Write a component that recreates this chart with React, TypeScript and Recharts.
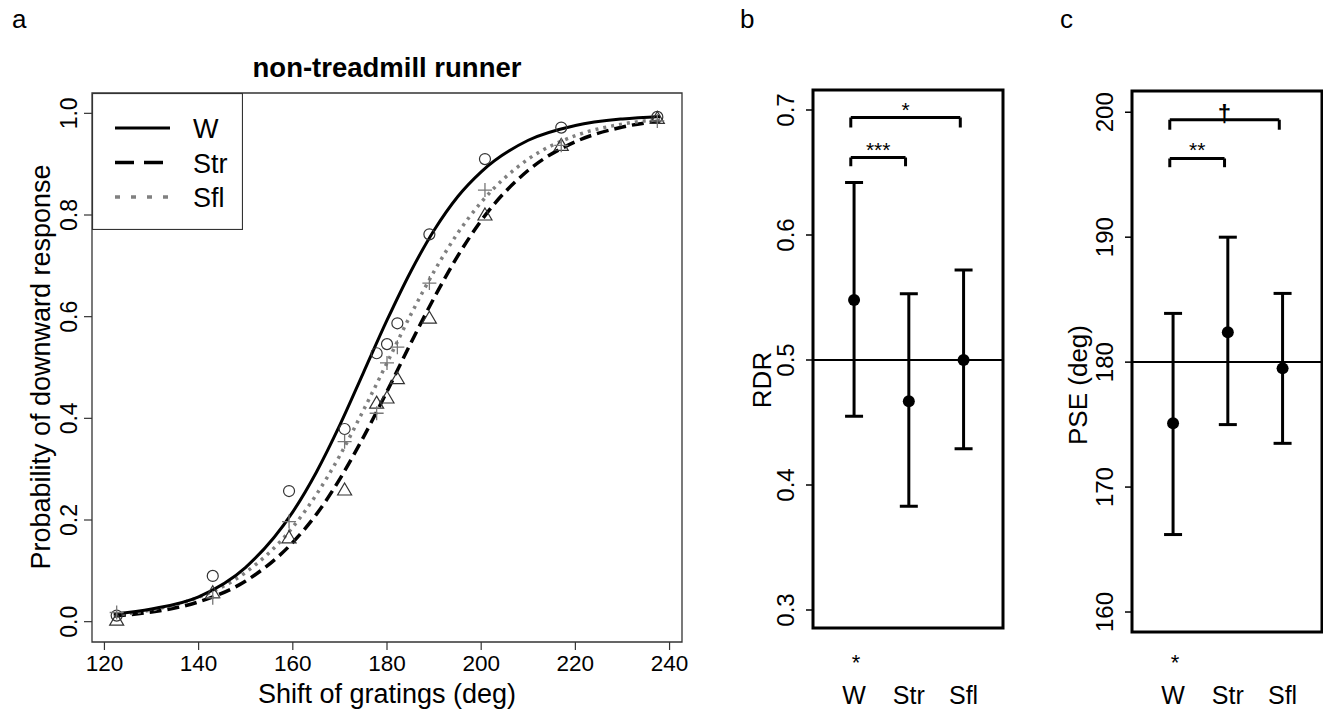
import React from 'react';
import {
  ComposedChart,
  ErrorBar,
  Legend,
  Line,
  ReferenceArea,
  ReferenceLine,
  Scatter,
  XAxis,
  YAxis,
} from 'recharts';

const FONT = '"Liberation Sans", Arial, sans-serif';

// panel a: observed proportions at each grating shift
const shiftX = [122.6, 143, 159.2, 171, 177.8, 180, 182.2, 189, 200.8, 217, 237.4];
const obsW = [0.012, 0.09, 0.257, 0.379, 0.528, 0.546, 0.587, 0.762, 0.91, 0.972, 0.993];
const obsStr = [0.003, 0.057, 0.165, 0.259, 0.43, 0.44, 0.478, 0.597, 0.8, 0.937, 0.99];
const obsSfl = [0.018, 0.047, 0.197, 0.354, 0.41, 0.509, 0.54, 0.666, 0.849, 0.937, 0.985];

// panel a: fitted psychometric curves
const curveX = [122, 130, 140, 150, 160, 165, 170, 175, 180, 185, 190, 195, 200, 210, 220, 230, 238];
const fitW = [0.015, 0.025, 0.049, 0.107, 0.216, 0.294, 0.387, 0.49, 0.593, 0.688, 0.77, 0.836, 0.885, 0.947, 0.976, 0.989, 0.994];
const fitStr = [0.011, 0.019, 0.039, 0.08, 0.156, 0.211, 0.281, 0.363, 0.453, 0.547, 0.637, 0.719, 0.789, 0.888, 0.944, 0.973, 0.985];
const fitSfl = [0.013, 0.023, 0.048, 0.097, 0.186, 0.25, 0.327, 0.416, 0.509, 0.603, 0.689, 0.764, 0.825, 0.91, 0.956, 0.979, 0.988];

const xTicksA = [120, 140, 160, 180, 200, 220, 240];
const yTicksA = [0, 0.2, 0.4, 0.6, 0.8, 1];

// panels b and c
const conditions = ['W', 'Str', 'Sfl'];
const belowMarks = ['*', '', ''];
const condPos = [1, 2, 3];

const rdrMean = [0.548, 0.467, 0.5];
const rdrLow = [0.455, 0.383, 0.429];
const rdrHigh = [0.642, 0.553, 0.572];
const rdrTicks = [0.3, 0.4, 0.5, 0.6, 0.7];
const rdrBrackets = [
  { from: 0.94, to: 2.94, top: 0.694, foot: 0.686, mark: '*' },
  { from: 0.94, to: 1.94, top: 0.662, foot: 0.655, mark: '***' },
];

const pseMean = [175.1, 182.4, 179.5];
const pseLow = [166.2, 175.0, 173.5];
const pseHigh = [183.9, 190.0, 185.5];
const pseTicks = [160, 170, 180, 190, 200];
const pseBrackets = [
  { from: 0.94, to: 2.94, top: 199.4, foot: 198.6, mark: '\u2020' },
  { from: 0.94, to: 1.94, top: 196.3, foot: 195.6, mark: '**' },
];

const toPoints = (xs: number[], ys: number[]) => xs.map((x, i) => ({ x, y: ys[i] }));

const legendItems = [
  { name: 'W', color: '#000', dash: undefined as string | undefined, width: 3 },
  { name: 'Str', color: '#000', dash: '19 10', width: 3.5 },
  { name: 'Sfl', color: '#808080', dash: '5 11', width: 3.5 },
];

const OpenCircle = (p: any) => (
  <circle cx={p.cx} cy={p.cy} r={5.5} fill="none" stroke="#333" strokeWidth={1.2} />
);
const OpenTriangle = (p: any) => (
  <path
    d={`M${p.cx},${p.cy - 7} L${p.cx + 7},${p.cy + 5} L${p.cx - 7},${p.cy + 5} Z`}
    fill="none"
    stroke="#333"
    strokeWidth={1.2}
  />
);
const Plus = (p: any) => (
  <path
    d={`M${p.cx - 7},${p.cy} h14 M${p.cx},${p.cy - 7} v14`}
    fill="none"
    stroke="#777"
    strokeWidth={1.3}
  />
);
const FilledDot = (p: any) => <circle cx={p.cx} cy={p.cy} r={6} fill="#000" />;

const RotatedYTick = (digits: number, shift: number, size: number) => (p: any) => (
  <text
    x={p.x - shift}
    y={p.y}
    transform={`rotate(-90 ${p.x - shift} ${p.y})`}
    textAnchor="middle"
    fontSize={size}
    fontFamily={FONT}
    fill="#000"
  >
    {Number(p.payload.value).toFixed(digits)}
  </text>
);

const XTickA = (p: any) => (
  <text x={p.x} y={p.y + 21} textAnchor="middle" fontSize={22.5} fontFamily={FONT} fill="#000">
    {p.payload.value}
  </text>
);

// category ticks: significance mark under W, then the condition name
const CondTick = (markY: number, nameY: number) => (p: any) => {
  const i = condPos.indexOf(p.payload.value);
  return (
    <g>
      <text x={p.x + 2} y={markY} textAnchor="middle" fontSize={22} fontFamily={FONT} fill="#000">
        {belowMarks[i]}
      </text>
      <text x={p.x} y={nameY} textAnchor="middle" fontSize={25} fontFamily={FONT} fill="#000">
        {conditions[i]}
      </text>
    </g>
  );
};

function LegendBox() {
  return (
    <svg width={151} height={137} style={{ display: 'block' }}>
      <rect x={0.5} y={0.5} width={150} height={136} fill="#fff" stroke="#333" strokeWidth={1.2} />
      {legendItems.map((it, i) => (
        <g key={it.name}>
          <line
            x1={23}
            x2={78}
            y1={35 + i * 34.5}
            y2={35 + i * 34.5}
            stroke={it.color}
            strokeWidth={it.width}
            strokeDasharray={it.dash}
          />
          <text x={101} y={45 + i * 34.5} fontSize={27} fontFamily={FONT} fill="#000">
            {it.name}
          </text>
        </g>
      ))}
    </svg>
  );
}

function PanelA() {
  const xDom = [117.36, 242.64];
  const yDom = [-0.04, 1.04];
  return (
    <ComposedChart width={700} height={710} margin={{ top: 93, right: 18, bottom: 28, left: 42 }}>
      <XAxis
        type="number"
        dataKey="x"
        domain={xDom}
        ticks={xTicksA}
        allowDataOverflow
        axisLine={false}
        tickSize={8}
        tickMargin={0}
        tickLine={{ stroke: '#333', strokeWidth: 1.2 }}
        height={40}
        tick={XTickA}
      />
      <YAxis
        type="number"
        dataKey="y"
        domain={yDom}
        ticks={yTicksA}
        allowDataOverflow
        axisLine={false}
        tickSize={8}
        tickMargin={0}
        tickLine={{ stroke: '#333', strokeWidth: 1.2 }}
        width={50}
        tick={RotatedYTick(1, 7, 23)}
      />
      <ReferenceArea
        x1={xDom[0]}
        x2={xDom[1]}
        y1={yDom[0]}
        y2={yDom[1]}
        fill="none"
        stroke="#333"
        strokeWidth={1.3}
      />
      <Line
        data={toPoints(curveX, fitStr)}
        dataKey="y"
        type="monotone"
        stroke="#000"
        strokeWidth={3.5}
        strokeDasharray="12 6"
        dot={false}
        isAnimationActive={false}
      />
      <Line
        data={toPoints(curveX, fitSfl)}
        dataKey="y"
        type="monotone"
        stroke="#808080"
        strokeWidth={3.5}
        strokeDasharray="3 5"
        dot={false}
        isAnimationActive={false}
      />
      <Line
        data={toPoints(curveX, fitW)}
        dataKey="y"
        type="monotone"
        stroke="#000"
        strokeWidth={3}
        dot={false}
        isAnimationActive={false}
      />
      <Scatter data={toPoints(shiftX, obsW)} shape={OpenCircle} isAnimationActive={false} />
      <Scatter data={toPoints(shiftX, obsStr)} shape={OpenTriangle} isAnimationActive={false} />
      <Scatter data={toPoints(shiftX, obsSfl)} shape={Plus} isAnimationActive={false} />
      <Legend
        layout="vertical"
        align="center"
        verticalAlign="middle"
        content={() => <LegendBox />}
        wrapperStyle={{ left: 92, top: 93, width: 151, height: 137 }}
      />
    </ComposedChart>
  );
}

type Bracket = { from: number; to: number; top: number; foot: number; mark: string };

function CondPanel(props: {
  width: number;
  margin: { top: number; right: number; bottom: number; left: number };
  mean: number[];
  low: number[];
  high: number[];
  yDom: number[];
  yTicks: number[];
  digits: number;
  refY: number;
  brackets: Bracket[];
}) {
  const { width, margin, mean, low, high, yDom, yTicks, digits, refY, brackets } = props;
  const xDom = [0.25, 3.72];
  const data = condPos.map((x, i) => ({ x, y: mean[i], err: [mean[i] - low[i], high[i] - mean[i]] }));
  return (
    <ComposedChart width={width} height={710} margin={margin}>
      <XAxis
        type="number"
        dataKey="x"
        domain={xDom}
        ticks={condPos}
        allowDataOverflow
        axisLine={false}
        tickLine={false}
        tickSize={0}
        tickMargin={0}
        height={60}
        tick={CondTick(670, 704)}
      />
      <YAxis
        type="number"
        dataKey="y"
        domain={yDom}
        ticks={yTicks}
        allowDataOverflow
        axisLine={false}
        tickSize={7}
        tickMargin={0}
        tickLine={{ stroke: '#000', strokeWidth: 1.5 }}
        width={50}
        tick={RotatedYTick(digits, 12, 24)}
      />
      <ReferenceLine y={refY} stroke="#000" strokeWidth={2} />
      {brackets.map((b, i) => (
        <React.Fragment key={i}>
          <ReferenceLine
            segment={[
              { x: b.from, y: b.top },
              { x: b.to, y: b.top },
            ]}
            stroke="#000"
            strokeWidth={3}
            label={{
              value: b.mark,
              position: 'top',
              offset: b.mark === '\u2020' ? -2 : 1,
              fontSize: b.mark === '\u2020' ? 24 : 21,
              fill: '#000',
              fontFamily: FONT,
              fontWeight: b.mark === '\u2020' ? 'bold' : 'normal',
            }}
          />
          <ReferenceLine
            segment={[
              { x: b.from, y: b.top },
              { x: b.from, y: b.foot },
            ]}
            stroke="#000"
            strokeWidth={3}
          />
          <ReferenceLine
            segment={[
              { x: b.to, y: b.top },
              { x: b.to, y: b.foot },
            ]}
            stroke="#000"
            strokeWidth={3}
          />
        </React.Fragment>
      ))}
      <Scatter data={data} shape={FilledDot} isAnimationActive={false}>
        <ErrorBar dataKey="err" direction="y" width={9} stroke="#000" strokeWidth={3} isAnimationActive={false} />
      </Scatter>
      <ReferenceArea
        x1={xDom[0]}
        x2={xDom[1]}
        y1={yDom[0]}
        y2={yDom[1]}
        fill="none"
        stroke="#000"
        strokeWidth={3}
      />
    </ComposedChart>
  );
}

export default function App() {
  const txt = { fontFamily: FONT, fill: '#000' } as const;
  return (
    <div
      style={{
        position: 'absolute',
        left: 0,
        top: 0,
        width: 1323,
        height: 710,
        background: '#fff',
        overflow: 'hidden',
        fontFamily: FONT,
      }}
    >
      <div style={{ position: 'absolute', left: 0, top: 0 }}>
        <PanelA />
      </div>
      <div style={{ position: 'absolute', left: 720, top: 0 }}>
        <CondPanel
          width={300}
          margin={{ top: 90, right: 17, bottom: 22, left: 43 }}
          mean={rdrMean}
          low={rdrLow}
          high={rdrHigh}
          yDom={[0.2856, 0.716]}
          yTicks={rdrTicks}
          digits={1}
          refY={0.5}
          brackets={rdrBrackets}
        />
      </div>
      <div style={{ position: 'absolute', left: 1040, top: 0 }}>
        <CondPanel
          width={283}
          margin={{ top: 91, right: 1, bottom: 18, left: 42 }}
          mean={pseMean}
          low={pseLow}
          high={pseHigh}
          yDom={[158.4, 201.7]}
          yTicks={pseTicks}
          digits={0}
          refY={180}
          brackets={pseBrackets}
        />
      </div>
      <svg
        width={1323}
        height={710}
        style={{ position: 'absolute', left: 0, top: 0, pointerEvents: 'none' }}
      >
        <text x={12} y={28} fontSize={26} {...txt}>a</text>
        <text x={740} y={28} fontSize={26} {...txt}>b</text>
        <text x={1060} y={28} fontSize={26} {...txt}>c</text>
        <text x={387} y={77} fontSize={27.5} fontWeight="bold" textAnchor="middle" {...txt}>
          non-treadmill runner
        </text>
        <text x={387} y={703} fontSize={27} textAnchor="middle" {...txt}>
          Shift of gratings (deg)
        </text>
        <text x={50} y={367} fontSize={27} textAnchor="middle" transform="rotate(-90 50 367)" {...txt}>
          Probability of downward response
        </text>
        <text x={771} y={380} fontSize={26} textAnchor="middle" transform="rotate(-90 771 380)" {...txt}>
          RDR
        </text>
        <text x={1087} y={385} fontSize={26} textAnchor="middle" transform="rotate(-90 1087 385)" {...txt}>
          PSE (deg)
        </text>
      </svg>
    </div>
  );
}
